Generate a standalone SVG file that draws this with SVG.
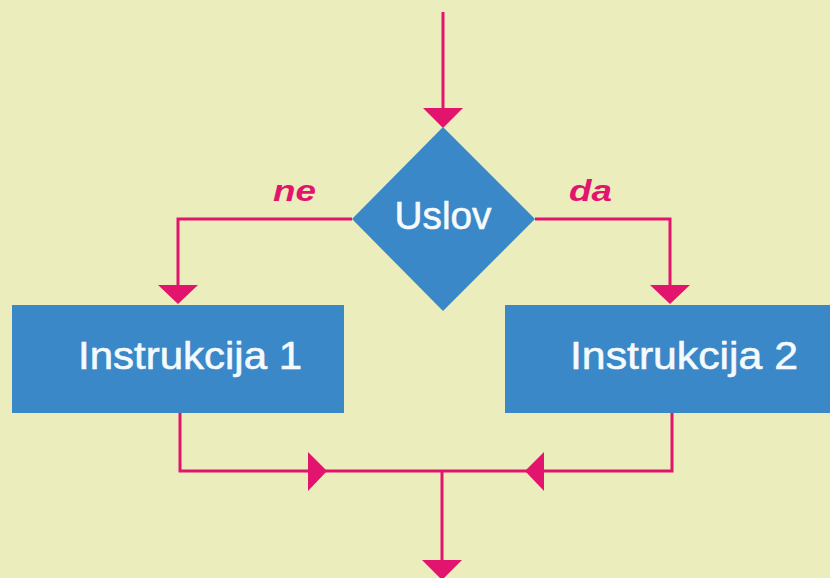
<svg xmlns="http://www.w3.org/2000/svg" width="830" height="578" viewBox="0 0 830 578">
<defs>
<style>
.bg{fill:#EBEEBC}
.shape{fill:#3A88C8}
.lbl{font-family:"Liberation Sans",Arial,sans-serif;fill:#F4FAFD;font-size:38px;stroke:#F4FAFD;stroke-width:0.6}
.cond{font-family:"Liberation Sans",Arial,sans-serif;fill:#E2156E;font-size:30px;font-style:italic;font-weight:bold}
.ln{stroke:#E2156E;stroke-width:3;fill:none}
.ah{fill:#E2146E}
</style>
</defs>
<rect class="bg" x="0" y="0" width="830" height="578"/>
<g id="connectors">
<line class="ln" x1="443" y1="12" x2="443" y2="110"/>
<polygon class="ah" points="423,108 463,108 443,128"/>
<polyline class="ln" points="352,219 178,219 178,287"/>
<polygon class="ah" points="158,285 198,285 178,304"/>
<polyline class="ln" points="535,219 670,219 670,287"/>
<polygon class="ah" points="650,285 690,285 670,304"/>
<polyline class="ln" points="180,413 180,471 672,471 672,413"/>
<polygon class="ah" points="308,452 327,471 308,491"/>
<polygon class="ah" points="544,452 525,471 544,491"/>
<line class="ln" x1="442" y1="471" x2="442" y2="562"/>
<polygon class="ah" points="422,560 462,560 442,580"/>
<text class="cond" x="273" y="201" textLength="43" lengthAdjust="spacingAndGlyphs">ne</text>
<text class="cond" x="569" y="201" textLength="43" lengthAdjust="spacingAndGlyphs">da</text>
</g>
<g id="uslov">
<polygon class="shape" points="443,127 535,219 443,311 352,219"/>
<text class="lbl" x="443" y="229" text-anchor="middle" textLength="97" lengthAdjust="spacingAndGlyphs">Uslov</text>
</g>
<g id="instrukcija1">
<rect class="shape" x="12" y="305" width="332" height="108"/>
<text class="lbl" x="78" y="369" textLength="224" lengthAdjust="spacingAndGlyphs">Instrukcija 1</text>
</g>
<g id="instrukcija2">
<rect class="shape" x="505" y="305" width="330" height="108"/>
<text class="lbl" x="570" y="369" textLength="228" lengthAdjust="spacingAndGlyphs">Instrukcija 2</text>
</g>
</svg>
